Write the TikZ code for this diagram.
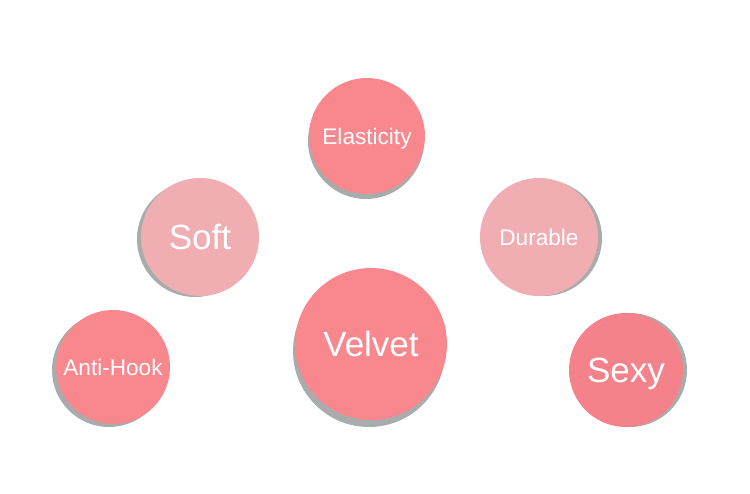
\documentclass[tikz,border=0pt]{standalone}
\usepackage{fontspec}
\setmainfont{Liberation Sans}
\definecolor{shadowgray}{HTML}{A9ACAC}
\definecolor{pinkdeep}{HTML}{F8888D}
\definecolor{pinksexy}{HTML}{F5828A}
\definecolor{pinklight}{HTML}{F1AEB2}
\tikzset{
  bubble/.style={circle, inner sep=0pt, text=white, minimum size=#1, text depth=0pt},
  bigtext/.style={font=\fontsize{35}{40}\selectfont, text height=25pt},
  smalltext/.style={font=\fontsize{22.6}{26}\selectfont, text height=16.2pt},
}
\begin{document}
\begin{tikzpicture}[x=1pt, y=-1pt]
  % canvas
  \useasboundingbox (0,0) rectangle (750,493);
  % grey shadows behind the circles
  \fill[shadowgray] (369,351) circle (76);
  \fill[shadowgray] (366,141) circle (58);
  \fill[shadowgray] (195,239) circle (58);
  \fill[shadowgray] (544,238) circle (58);
  \fill[shadowgray] (109,370) circle (57);
  \fill[shadowgray] (630,370) circle (57);
  % circles
  \node[bubble=152pt, fill=pinkdeep, bigtext] (velvet) at (371,344) {Velvet};
  \node[bubble=116pt, fill=pinkdeep, smalltext] (elasticity) at (367,136) {Elasticity};
  \node[bubble=118pt, fill=pinklight, bigtext] (soft) at (200,237) {Soft};
  \node[bubble=118pt, fill=pinklight, smalltext] (durable) at (539,237) {Durable};
  \node[bubble=114pt, fill=pinkdeep, smalltext] (antihook) at (113,367) {Anti-Hook};
  \node[bubble=114pt, fill=pinksexy, bigtext] (sexy) at (626,370) {Sexy};
\end{tikzpicture}
\end{document}
